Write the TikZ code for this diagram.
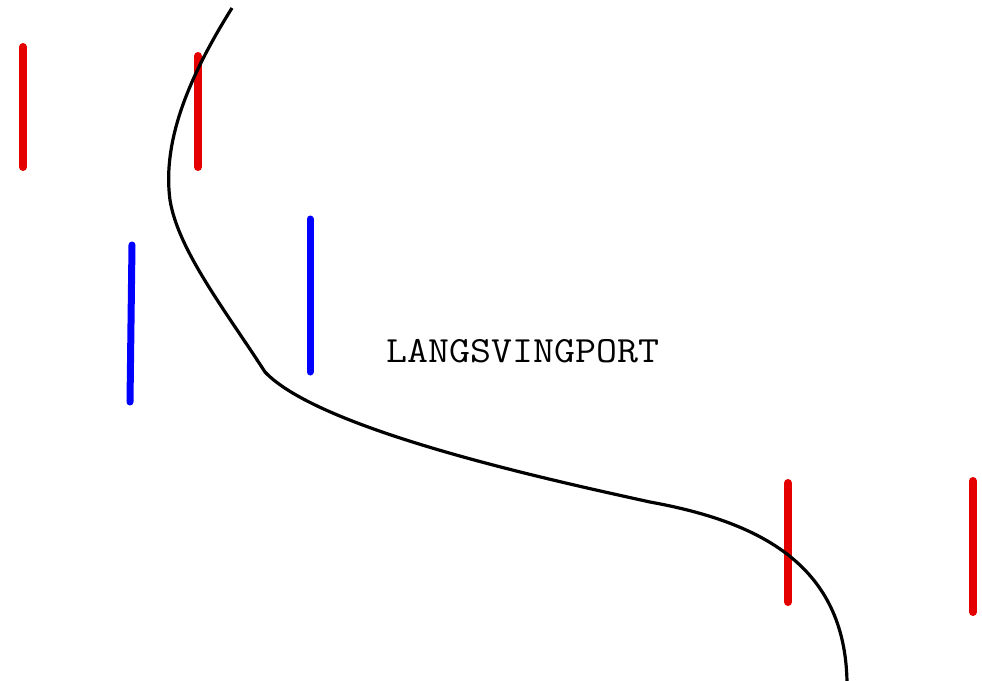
\documentclass[tikz,border=0pt]{standalone}
\usepackage{fontspec}

\tikzset{
    redpole/.style={red!90!black, line width=8pt, line cap=round},
    bluepole/.style={blue, line width=7pt, line cap=round},
    course/.style={black, line width=3.2pt}
}

\begin{document}
\begin{tikzpicture}[x=1pt, y=-1pt]
        \useasboundingbox[fill=white] (0, 0) rectangle (982, 680);
        % red gates
        \draw[redpole] (23, 47) -- (23, 167);
        \draw[redpole] (198, 56) -- (198, 167);
        \draw[redpole] (788, 483) -- (788, 602);
        \draw[redpole] (973, 481) -- (973, 612);
        % blue gates
        \draw[bluepole] (132, 245) -- (130, 402);
        \draw[bluepole] (310, 219) -- (310, 372);
        % course line
        \draw[course] (232, 8) .. controls (190, 75) and (162, 140) .. (170, 200)
            .. controls (178, 250) and (225, 310) .. (265, 372)
            .. controls (320, 430) and (550, 480) .. (650, 502)
            .. controls (760, 522) and (845, 565) .. (847, 682);
        \node[anchor=base, font=\ttfamily\fontsize{37}{42}\selectfont] (gatename) at (523, 362) {\scalebox{1.1}[1]{LANGSVINGPORT}};
\end{tikzpicture}
\end{document}
